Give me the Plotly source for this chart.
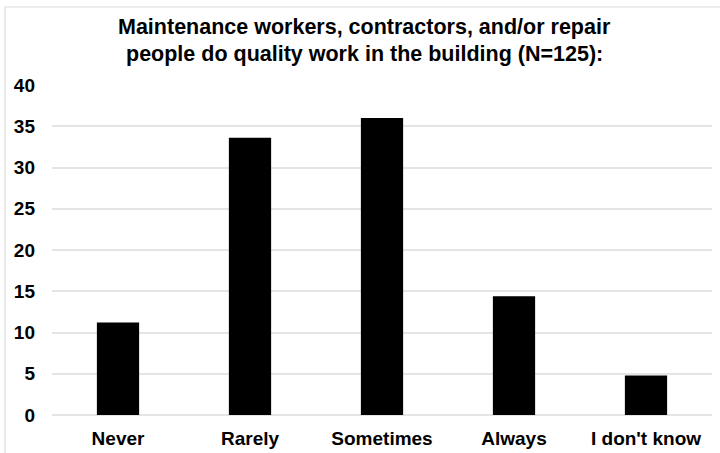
import plotly.graph_objects as go

# Survey responses (percent of N=125)
categories = ["Never", "Rarely", "Sometimes", "Always", "I don't know"]
percentages = [11.2, 33.6, 36.0, 14.4, 4.8]
y_ticks = [0, 5, 10, 15, 20, 25, 30, 35, 40]

title_lines = ["Maintenance workers, contractors, and/or repair",
               "people do quality work in the building (N=125):"]

fig = go.Figure(
    go.Bar(
        x=categories,
        y=percentages,
        marker=dict(color="#000000", line=dict(color="#000000", width=0)),
        width=0.32,
    )
)

W, H = 720, 453
L, R, T, B = 52, 8, 85, 38
pw, ph = W - L - R, H - T - B

fig.update_layout(
    width=W,
    height=H,
    margin=dict(l=L, r=R, t=T, b=B, pad=0),
    paper_bgcolor="#ffffff",
    plot_bgcolor="#ffffff",
    showlegend=False,
    font=dict(family="Liberation Sans, Arial, sans-serif", color="#000000"),
    bargap=0.68,
    xaxis=dict(
        showgrid=False,
        showline=False,
        zeroline=False,
        ticks="",
        automargin=False,
        ticklabelstandoff=10,
        tickfont=dict(size=19, weight="bold"),
    ),
    yaxis=dict(
        range=[0, 40],
        tickvals=y_ticks,
        automargin=False,
        showgrid=True,
        gridcolor="#e4e4e4",
        gridwidth=1.5,
        zeroline=True,
        zerolinecolor="#e4e4e4",
        zerolinewidth=1.5,
        showline=False,
        ticks="",
        ticklabelstandoff=16,
        tickfont=dict(size=19, weight="bold"),
    ),
)

# two-line chart title
for line, yc in zip(title_lines, [27, 54]):
    fig.add_annotation(
        text=line,
        xref="paper", yref="paper",
        x=(364 - L) / pw, y=(H - B - yc) / ph,
        xanchor="center", yanchor="middle",
        showarrow=False,
        font=dict(size=21.5, family="Liberation Sans, Arial, sans-serif",
                  color="#000000", weight="bold"),
    )

# light frame along the top and left edges of the chart
x0 = (5 - L) / pw
y0 = (H - B - 7) / ph
fig.add_shape(type="line", xref="paper", yref="paper", x0=x0, x1=(W - L + 2) / pw,
              y0=y0, y1=y0, line=dict(color="#dcdcdc", width=1.2), layer="below")
fig.add_shape(type="line", xref="paper", yref="paper", x0=x0, x1=x0,
              y0=y0, y1=-(B + 2) / ph, line=dict(color="#dcdcdc", width=1.2), layer="below")

fig.write_html("out.html")
